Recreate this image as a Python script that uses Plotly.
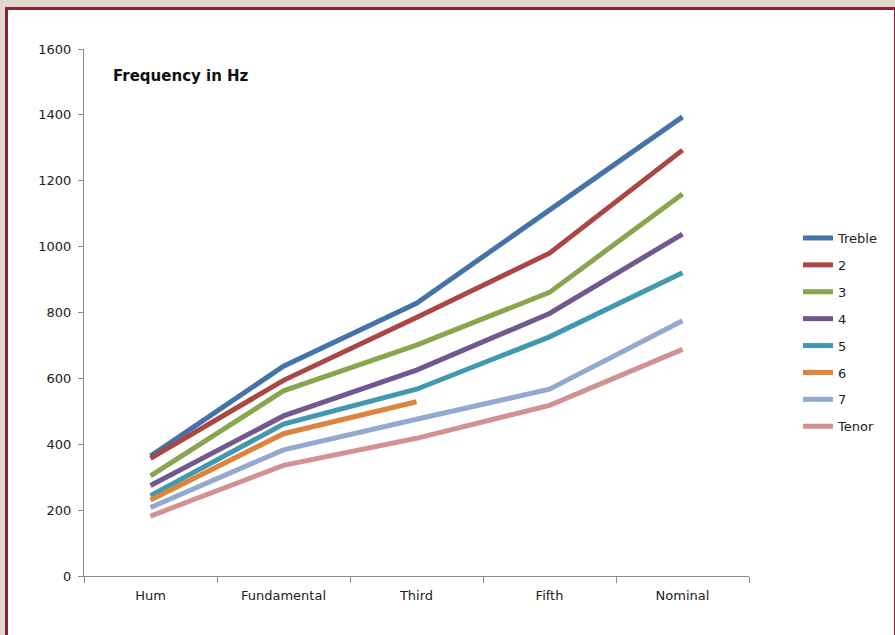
import plotly.graph_objects as go

# Bell partial frequencies (Hz) for each bell of the ring
partials = ["Hum", "Fundamental", "Third", "Fifth", "Nominal"]
bells = ["Treble", "2", "3", "4", "5", "6", "7", "Tenor"]

treble = [364, 637, 828, 1112, 1394]
bell_2 = [357, 594, 785, 980, 1293]
bell_3 = [304, 562, 701, 861, 1160]
bell_4 = [275, 486, 625, 797, 1038]
bell_5 = [244, 461, 567, 726, 921]
bell_6 = [231, 432, 529]
bell_7 = [208, 383, 476, 567, 775]
tenor = [182, 336, 418, 518, 688]

series = [treble, bell_2, bell_3, bell_4, bell_5, bell_6, bell_7, tenor]
colors = ["#4572A7", "#AA4643", "#89A54E", "#71588F",
          "#4198AF", "#DB843D", "#93A9D0", "#D19392"]

W, H = 895, 635
L, R, T, B = 84, 749, 49, 576   # plot-area edges in pixels


def px_x(p):
    return (p - L) / (R - L)


def px_y(p):
    return (B - p) / (B - T)


fig = go.Figure()
for name, vals, col in zip(bells, series, colors):
    fig.add_trace(go.Scatter(
        x=partials[:len(vals)], y=vals, name=name, mode="lines",
        legendgroup=name,
        line=dict(color=col, width=5),
        hoverinfo="x+y+name",
    ))

font_family = "DejaVu Sans, Verdana, sans-serif"

fig.update_layout(
    width=W, height=H,
    margin=dict(l=L, r=W - R, t=T, b=H - B, pad=0),
    paper_bgcolor="#DFD8CC",
    plot_bgcolor="rgba(0,0,0,0)",
    font=dict(family=font_family, size=13, color="#222222"),
    showlegend=True,
    legend=dict(
        x=px_x(798), y=px_y(223), xanchor="left", yanchor="top",
        xref="paper", yref="paper",
        font=dict(size=13, color="#222222"),
        bgcolor="rgba(0,0,0,0)",
        traceorder="grouped", tracegroupgap=7,
        itemwidth=30,
    ),
    xaxis=dict(
        type="category", categoryorder="array", categoryarray=partials,
        range=[-0.5, 4.5],
        showline=True, linecolor="#8C8C8C", linewidth=1,
        ticks="outside", ticklen=6, tickcolor="#8C8C8C", tickson="boundaries",
        showgrid=False, zeroline=False,
        tickfont=dict(size=13, color="#222222"),
        ticklabelstandoff=7,
    ),
    yaxis=dict(
        range=[0, 1600], tickvals=[0, 200, 400, 600, 800, 1000, 1200, 1400, 1600],
        showline=True, linecolor="#8C8C8C", linewidth=1,
        ticks="outside", ticklen=5, tickcolor="#8C8C8C",
        showgrid=False, zeroline=False,
        tickfont=dict(size=13, color="#222222"),
        ticklabelstandoff=4,
    ),
    shapes=[
        # white chart sheet with a dark red frame
        dict(type="rect", xref="paper", yref="paper", layer="below",
             x0=px_x(6.5), x1=px_x(895.5), y0=px_y(645), y1=px_y(8.5),
             fillcolor="white", line=dict(color="#8B2335", width=3)),
    ],
    annotations=[
        dict(text="<b>Frequency in Hz</b>", xref="paper", yref="paper",
             x=px_x(111), y=px_y(76), xanchor="left", yanchor="middle",
             showarrow=False, font=dict(size=15, color="#111111")),
    ],
)

fig.write_html("out.html")
